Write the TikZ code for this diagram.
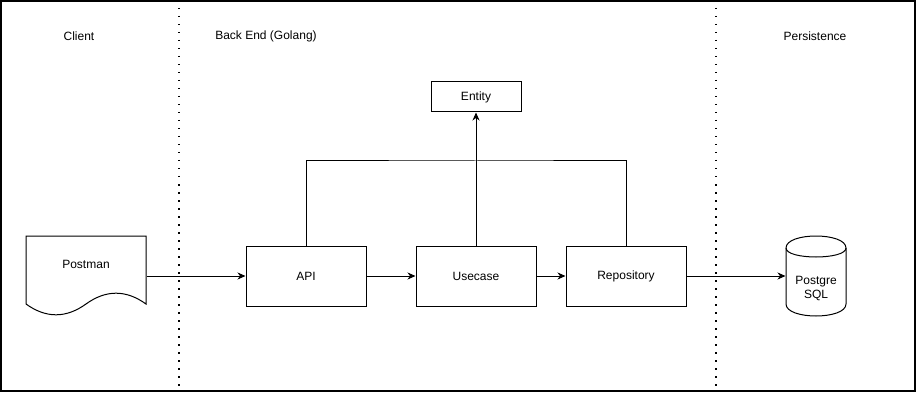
\documentclass[tikz,border=0pt]{standalone}
\usepackage{fontspec}
\setmainfont{Liberation Sans}
\usetikzlibrary{arrows.meta}

\tikzset{every picture/.style={line width=1pt}}
\tikzset{
  lbl/.style={font=\fontsize{12}{14}\selectfont},
  block/.style={draw, lbl, minimum width=120pt, minimum height=60pt},
  flow/.style={-{Stealth[length=8pt,width=7pt,inset=2.5pt]}},
  lane/.style={line width=1.5pt, dash pattern=on 1.5pt off 6.5pt}
}

\begin{document}
\begin{tikzpicture}[x=1pt,y=1pt,yscale=-1,xscale=1]
	\useasboundingbox (0,0) rectangle (916,393);

	%Outer frame
	\draw [line width=1.5pt] (1,1) rectangle (915,391);
	%Lane separators
	\draw [lane] (179,0) -- (179,391);
	\draw [lane] (716,0) -- (716,391);

	% Text Node
	\node [lbl] (client) at (79,36) {Client};
	% Text Node
	\node [lbl] (backend) at (266,36) {Back End (Golang)};
	% Text Node
	\node [lbl] (persist) at (815,36) {Persistence};

	%Shape: Document
	\node [minimum width=120pt, minimum height=80pt] (postman) at (86,276) {};
	\draw (26,236) -- (146,236) -- (146,304) .. controls (126,289.6) and (106,289.6) .. (86,304) .. controls (66,318.4) and (46,318.4) .. (26,304) -- cycle ;
	\node [lbl] (postmanlbl) at (86,264) {Postman};

	%Shape: Rectangles
	\node [block] (api) at (306,276) {API};
	\node [block] (usecase) at (476,276) {Usecase};
	\node [block] (repo) at (626,276) {Repository};
	\node [block, minimum width=90pt, minimum height=30pt] (entity) at (476,97) {Entity};

	%Shape: Can
	\node [minimum width=60pt, minimum height=80pt] (pg) at (816,276) {};
	\draw (786,248) .. controls (786,232) and (846,232) .. (846,248) -- (846,304) .. controls (846,320) and (786,320) .. (786,304) -- cycle ;
	\draw (786,248) .. controls (786,260) and (846,260) .. (846,248) ;
	\node [lbl, align=center] (pglbl) at (816,289) {Postgre\\SQL};

	%Straight Lines
	\draw [flow] (postman.east) -- (api.west) ;
	\draw [flow] (api) -- (usecase) ;
	\draw [flow] (usecase) -- (repo) ;
	\draw [flow] (repo) -- (pg.west) ;
	%Entity links
	\coordinate (hub) at (476,161) ;
	\draw (api.north) |- (hub) -| (repo.north) ;
	\draw [flow] (usecase.north) -- (entity.south) ;

\end{tikzpicture}
\end{document}
